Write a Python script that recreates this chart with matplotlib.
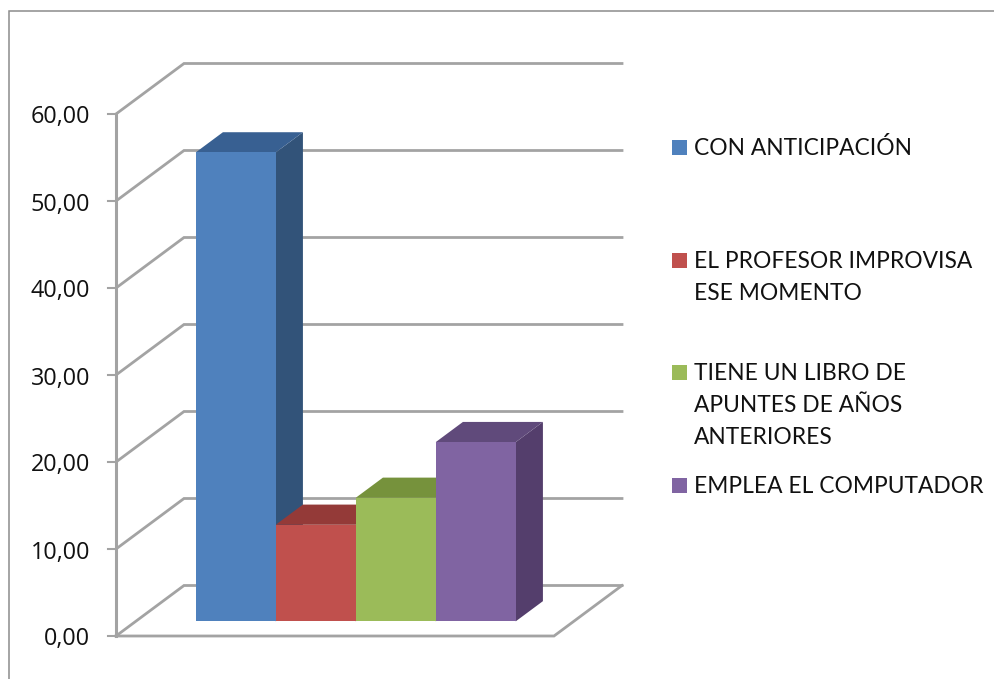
import matplotlib
matplotlib.use("Agg")
import matplotlib.pyplot as plt
from matplotlib.patches import Rectangle

categories = ["CON ANTICIPACIÓN", "EL PROFESOR IMPROVISA\nESE MOMENTO",
              "TIENE UN LIBRO DE\nAPUNTES DE AÑOS\nANTERIORES", "EMPLEA EL COMPUTADOR"]
values = [53.9, 11.1, 14.2, 20.6]
ticks = [0, 10, 20, 30, 40, 50, 60]
tick_labels = ["0,00", "10,00", "20,00", "30,00", "40,00", "50,00", "60,00"]

front_colors = ["#4F81BD", "#C0504D", "#9BBB59", "#8064A2"]
top_colors = ["#386092", "#943A38", "#76923C", "#604A7B"]
side_colors = ["#325379", "#7D2F2D", "#637B32", "#543E6C"]

W, H = 994, 679
PX_X = 80.0   # pixels per bar width
PX_Y = 8.7    # pixels per value unit
X0, Y0 = 116, 636  # front corner of the chart
DEPTH_X = 68 / PX_X
DEPTH_Y = 50.5 / PX_Y
FLOOR_W = 438 / PX_X
GRID = "#A3A3A3"


def proj(x, v, d):
    # oblique projection, d=0 front of the box and d=1 back wall
    return x + d * DEPTH_X, v + d * DEPTH_Y


def face(ax, pts, color, z):
    xs = [p[0] for p in pts]
    ys = [p[1] for p in pts]
    ax.fill(xs, ys, facecolor=color, edgecolor="none", zorder=z)


fig = plt.figure(figsize=(W / 100, H / 100), dpi=100)
ax = fig.add_axes([0, 0, 1, 1])
ax.set_xlim(-X0 / PX_X, (W - X0) / PX_X)
ax.set_ylim(-(H - Y0) / PX_Y, Y0 / PX_Y)
ax.axis("off")
to_data = ax.transData.inverted().transform

# outer chart border (only left and top show in the picture)
fx, fy = to_data((8.5, H - 10.5))
ax.plot([fx, fx, ax.get_xlim()[1]], [ax.get_ylim()[0], fy, fy], color="#8C8C8C", lw=1.1,
        solid_joinstyle="miter", zorder=1)

# gridlines on side wall and back wall
for t in ticks:
    a = proj(0, t, 0)
    b = proj(0, t, 1)
    c = proj(FLOOR_W, t, 1)
    ax.plot([a[0], b[0], c[0]], [a[1], b[1], c[1]], color=GRID, lw=2.0, solid_joinstyle="miter", zorder=2)

# floor front edges and value axis
b = proj(FLOOR_W, 0, 1)
ax.plot([0, FLOOR_W, b[0]], [0, 0, b[1]], color=GRID, lw=2.0, solid_joinstyle="miter", zorder=2)
ax.plot([0, 0], [0, ticks[-1]], color=GRID, lw=2.2, zorder=2)
for t, lab in zip(ticks, tick_labels):
    ax.plot([-8 / PX_X, 0], [t, t], color=GRID, lw=1.5, zorder=2)
    ax.text(-26 / PX_X, t - 9.5 / PX_Y, lab, ha="right", va="baseline", fontsize=16.8, family="Open Sans",
            color="#111111")

# bars
bar_start = 0.75
d0 = 0.29
d1 = 0.69
for i, v in enumerate(values):
    xl = bar_start + i
    xr = xl + 1
    face(ax, [proj(xr, 0, d0), proj(xr, 0, d1), proj(xr, v, d1), proj(xr, v, d0)], side_colors[i], 5)
    face(ax, [proj(xl, v, d0), proj(xr, v, d0), proj(xr, v, d1), proj(xl, v, d1)], top_colors[i], 5)
    face(ax, [proj(xl, 0, d0), proj(xr, 0, d0), proj(xr, v, d0), proj(xl, v, d0)], front_colors[i], 6)

# legend, first line baselines in pixels from the top
legend_base = [155, 268, 380, 493]
for cat, col, py in zip(categories, front_colors, legend_base):
    sx, sy = to_data((672, H - py))
    ax.add_patch(Rectangle((sx, sy), 15 / PX_X, 15 / PX_Y, facecolor=col, edgecolor="none", zorder=6))
    for k, line in enumerate(cat.split("\n")):
        tx, ty = to_data((694, H - py - k * 32))
        ax.text(tx, ty, line, ha="left", va="baseline", fontsize=16.4, family="Lato", color="#111111", zorder=7)

fig.savefig("out.png", dpi=100)
